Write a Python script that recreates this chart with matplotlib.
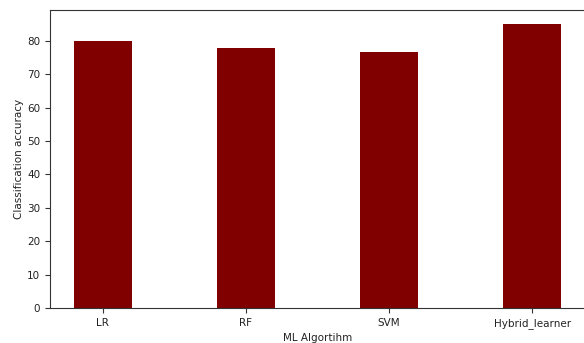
import matplotlib
matplotlib.use("Agg")
import matplotlib.pyplot as plt

algorithms = ["LR", "RF", "SVM", "Hybrid_learner"]
accuracy = [80, 78, 76.7, 85]

plt.rcParams["font.family"] = ["DejaVu Sans"]
plt.rcParams["font.size"] = 7.5

fig = plt.figure(figsize=(5.84, 3.43), dpi=100)
ax = fig.add_axes([50 / 584, 1 - 308 / 343, 535 / 584, 298 / 343])
ax.bar(algorithms, accuracy, color="maroon", width=0.4)
ax.set_xlabel("ML Algortihm", labelpad=3, color="#222222")
ax.set_ylabel("Classification accuracy", labelpad=2, color="#222222")
ax.tick_params(labelsize=7.5, colors="#333333", labelcolor="#222222")
for s in ax.spines.values():
    s.set_color("#333333")
ax.spines["right"].set_visible(False)  # falls just past the image edge in the reference
fig.savefig("out.png", dpi=100)
